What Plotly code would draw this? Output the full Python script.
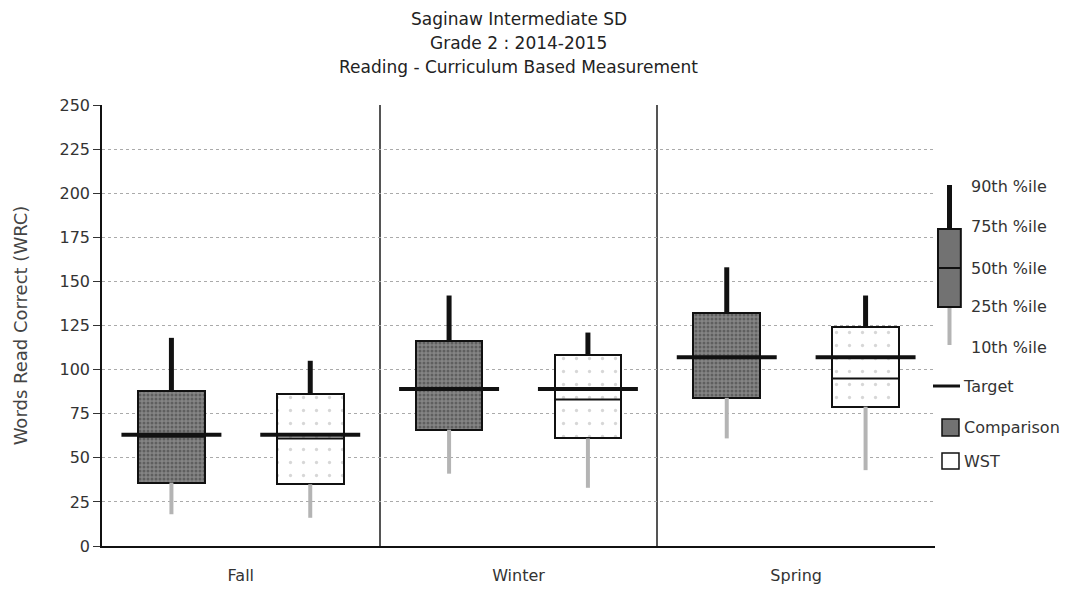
import plotly.graph_objects as go

# ---- data ----
seasons = ["Fall", "Winter", "Spring"]
comp_p10 = [18, 41, 61]
comp_p25 = [36, 66, 84]
comp_p50 = [62, 89, 107]
comp_p75 = [88, 116, 132]
comp_p90 = [118, 142, 158]
wst_p10 = [16, 33, 43]
wst_p25 = [35, 61, 79]
wst_p50 = [61, 83, 95]
wst_p75 = [86, 108, 124]
wst_p90 = [105, 121, 142]
target = [63, 89, 107]
y_ticks = [0, 25, 50, 75, 100, 125, 150, 175, 200, 225, 250]
title_lines = ["Saginaw Intermediate SD", "Grade 2 : 2014-2015", "Reading - Curriculum Based Measurement"]

FONT = "DejaVu Sans"
TXT = "#333333"
BOX_W = 0.24
TGT_W = 0.36
MED_W = 0.24
COMP_FILL = "#727272"

series = [
    ("Comparison", 0.25, comp_p10, comp_p25, comp_p50, comp_p75, comp_p90,
     dict(color=COMP_FILL, pattern=dict(shape=".", fgcolor="#3a3a3a", bgcolor="#858585",
                                         size=4, solidity=0.45, fillmode="overlay"))),
    ("WST", 0.75, wst_p10, wst_p25, wst_p50, wst_p75, wst_p90,
     dict(color="white", pattern=dict(shape=".", fgcolor="#b0b0b0", bgcolor="white",
                                       size=13, solidity=0.05, fillmode="overlay"))),
]

fig = go.Figure()


def segs(xc, y0, y1, half=0.0):
    xs, ys = [], []
    for i in range(len(xc)):
        if half:
            xs += [xc[i] - half, xc[i] + half, None]
            ys += [y0[i], y0[i], None]
        else:
            xs += [xc[i], xc[i], None]
            ys += [y0[i], y1[i], None]
    return xs, ys


for name, off, p10, p25, p50, p75, p90, mk in series:
    xc = [i + off for i in range(len(seasons))]
    # lower whisker (10th -> 25th)
    xs, ys = segs(xc, p10, p25)
    fig.add_trace(go.Scatter(x=xs, y=ys, mode="lines", showlegend=False, hoverinfo="skip",
                             line=dict(color="#b4b4b4", width=4)))
    # box 25th -> 75th
    fig.add_trace(go.Bar(x=xc, y=[b - a for a, b in zip(p25, p75)], base=p25, width=BOX_W,
                         name=name, showlegend=False,
                         marker=dict(**mk, line=dict(color="#111111", width=2))))
    # upper whisker 75th -> 90th
    xs, ys = segs(xc, p75, p90)
    fig.add_trace(go.Scatter(x=xs, y=ys, mode="lines", showlegend=False, hoverinfo="skip",
                             line=dict(color="#111111", width=5)))
    # median
    xs, ys = segs(xc, p50, p50, half=MED_W / 2)
    fig.add_trace(go.Scatter(x=xs, y=ys, mode="lines", showlegend=False, hoverinfo="skip",
                             line=dict(color="#111111", width=2)))
    # target
    xs, ys = segs(xc, target, target, half=TGT_W / 2)
    fig.add_trace(go.Scatter(x=xs, y=ys, mode="lines", showlegend=False, hoverinfo="skip",
                             line=dict(color="#111111", width=4)))

# ---- custom legend (paper coordinates, right of plot) ----
shapes = []
ann = []
LX = 1.0174  # centre of mini box
shapes.append(dict(type="line", xref="paper", yref="paper", x0=LX, x1=LX, y0=0.4558, y1=0.542,
                   line=dict(color="#b4b4b4", width=4)))
shapes.append(dict(type="line", xref="paper", yref="paper", x0=LX, x1=LX, y0=0.7188, y1=0.8186,
                   line=dict(color="#111111", width=5)))
shapes.append(dict(type="rect", xref="paper", yref="paper", x0=1.0036, x1=1.031, y0=0.542, y1=0.7188,
                   fillcolor=COMP_FILL, line=dict(color="#111111", width=2)))
shapes.append(dict(type="line", xref="paper", yref="paper", x0=1.0036, x1=1.031, y0=0.6304, y1=0.6304,
                   line=dict(color="#111111", width=2)))
shapes.append(dict(type="line", xref="paper", yref="paper", x0=0.9976, x1=1.030, y0=0.3628, y1=0.3628,
                   line=dict(color="#111111", width=3)))
shapes.append(dict(type="rect", xref="paper", yref="paper", x0=1.0084, x1=1.0288, y0=0.2494, y1=0.288,
                   fillcolor=COMP_FILL, line=dict(color="#111111", width=1.5)))
shapes.append(dict(type="rect", xref="paper", yref="paper", x0=1.0084, x1=1.0288, y0=0.1746, y1=0.2109,
                   fillcolor="white", line=dict(color="#111111", width=1.5)))

pct_labels = [("90th %ile", 0.816), ("75th %ile", 0.7234), ("50th %ile", 0.630),
              ("25th %ile", 0.542), ("10th %ile", 0.449)]
for t, yy in pct_labels:
    ann.append(dict(text=t, xref="paper", yref="paper", x=1.0408, y=yy, xanchor="left",
                    yanchor="middle", showarrow=False, font=dict(family=FONT, size=16, color=TXT)))
for t, xx, yy in [("Target", 1.031, 0.3628), ("Comparison", 1.0324, 0.2698), ("WST", 1.0324, 0.1927)]:
    ann.append(dict(text=t, xref="paper", yref="paper", x=xx, y=yy, xanchor="left",
                    yanchor="middle", showarrow=False, font=dict(family=FONT, size=16, color=TXT)))

# title, one annotation per line
for t, yy in zip(title_lines, [1.195, 1.1406, 1.0862]):
    ann.append(dict(text=t, xref="paper", yref="paper", x=0.5, y=yy, xanchor="center",
                    yanchor="middle", showarrow=False, font=dict(family=FONT, size=17, color="#222222")))

fig.update_layout(
    width=1077, height=581,
    margin=dict(l=94, r=150, t=97, b=43),
    paper_bgcolor="white", plot_bgcolor="white",
    barmode="overlay", bargap=0,
    font=dict(family=FONT, color=TXT),
    shapes=shapes, annotations=ann,
    showlegend=False,
)
fig.update_xaxes(
    range=[0, 3], tickmode="array", tickvals=[i + 0.5 for i in range(len(seasons))], ticktext=seasons,
    showgrid=False, zeroline=False, showline=True, linecolor="#111111", linewidth=1.5,
    ticks="", tickfont=dict(family=FONT, size=16, color=TXT), ticklabelstandoff=14,
    minor=dict(tickvals=[1, 2], showgrid=True, gridcolor="#555555", gridwidth=1.5, ticks=""),
    automargin=False,
)
fig.update_yaxes(
    range=[0, 250], tickmode="array", tickvals=y_ticks,
    showgrid=True, gridcolor="#aaaaaa", griddash="dot", gridwidth=1,
    zeroline=False, showline=True, linecolor="#111111", linewidth=1.5,
    ticks="outside", ticklen=7, tickcolor="#333333", tickwidth=1,
    tickfont=dict(family=FONT, size=16, color=TXT),
    title=dict(text="Words Read Correct (WRC)", font=dict(family=FONT, size=18, color="#444444"), standoff=27),
    automargin=False,
)

fig.write_html("out.html")
